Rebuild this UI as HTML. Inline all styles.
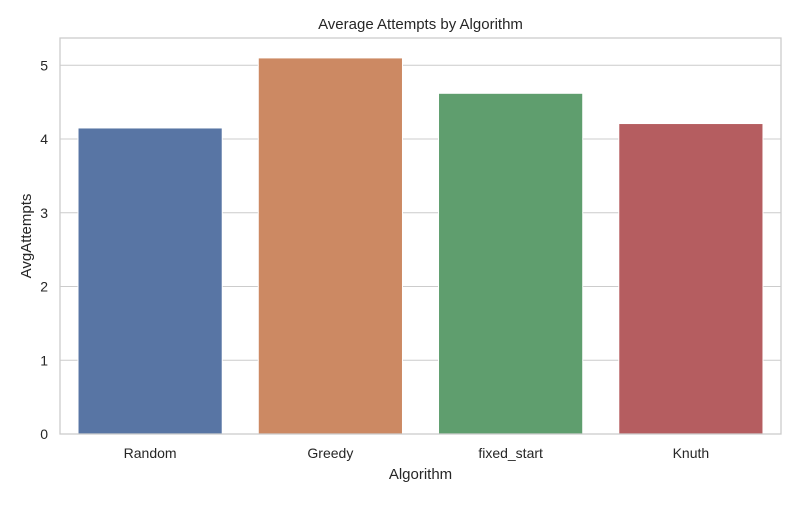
<!DOCTYPE html>
<html><head><meta charset="utf-8"><style>
body{margin:0;background:#fff;font-family:"Liberation Sans",sans-serif}
</style></head><body>
<svg id="chart" width="800" height="500" xmlns="http://www.w3.org/2000/svg" font-family="Liberation Sans, sans-serif"></svg>
<script>
const categories=["Random","Greedy","fixed_start","Knuth"];
const values=[4.15,5.10,4.62,4.21];
const colors=["#5875a4","#cc8963","#5f9e6e","#b55d60"];
const yTicks=[0,1,2,3,4,5];
const L=60,R=781,T=38,B=434,yMax=5.37;
const svg=document.getElementById('chart');
const NS='http://www.w3.org/2000/svg';
function y(v){return B-(v/yMax)*(B-T);}
const band=(R-L)/categories.length;
function x(i){return L+band*i;}
function mk(t,a,txt){const e=document.createElementNS(NS,t);for(const k in a)e.setAttribute(k,a[k]);if(txt!==undefined)e.textContent=txt;svg.appendChild(e);return e;}
yTicks.forEach(v=>{
 const g=mk('line',{x1:L,x2:R,y1:y(v),y2:y(v),stroke:'#cccccc','stroke-width':1});
 
 
 const t=mk('text',{x:L-12,y:y(v)+5,'text-anchor':'end','font-size':14,fill:'#262626'},String(v));
 
 
});
categories.forEach((c,i)=>{
 const bw=band*0.8,bx=x(i)+band*0.1;
 const r=mk('rect',{x:bx,y:y(values[i]),width:bw,height:B-y(values[i]),fill:colors[i],stroke:'#fff','stroke-width':1});
 
 
 const t=mk('text',{x:x(i)+band/2,y:B+24,'text-anchor':'middle','font-size':14,fill:'#262626'},c);
 
 
});
const f=mk('rect',{x:L,y:T,width:R-L,height:B-T,fill:'none',stroke:'#cccccc','stroke-width':1.3});


const ti=mk('text',{x:(L+R)/2,y:29,'text-anchor':'middle','font-size':15,fill:'#262626'},'Average Attempts by Algorithm');


const xt=mk('text',{x:(L+R)/2,y:479,'text-anchor':'middle','font-size':15,fill:'#262626'},'Algorithm');


const yt=mk('text',{x:31,y:(T+B)/2,'text-anchor':'middle','font-size':15,fill:'#262626',transform:'rotate(-90 31 '+((T+B)/2)+')'},'AvgAttempts');


</script>
</body></html>
